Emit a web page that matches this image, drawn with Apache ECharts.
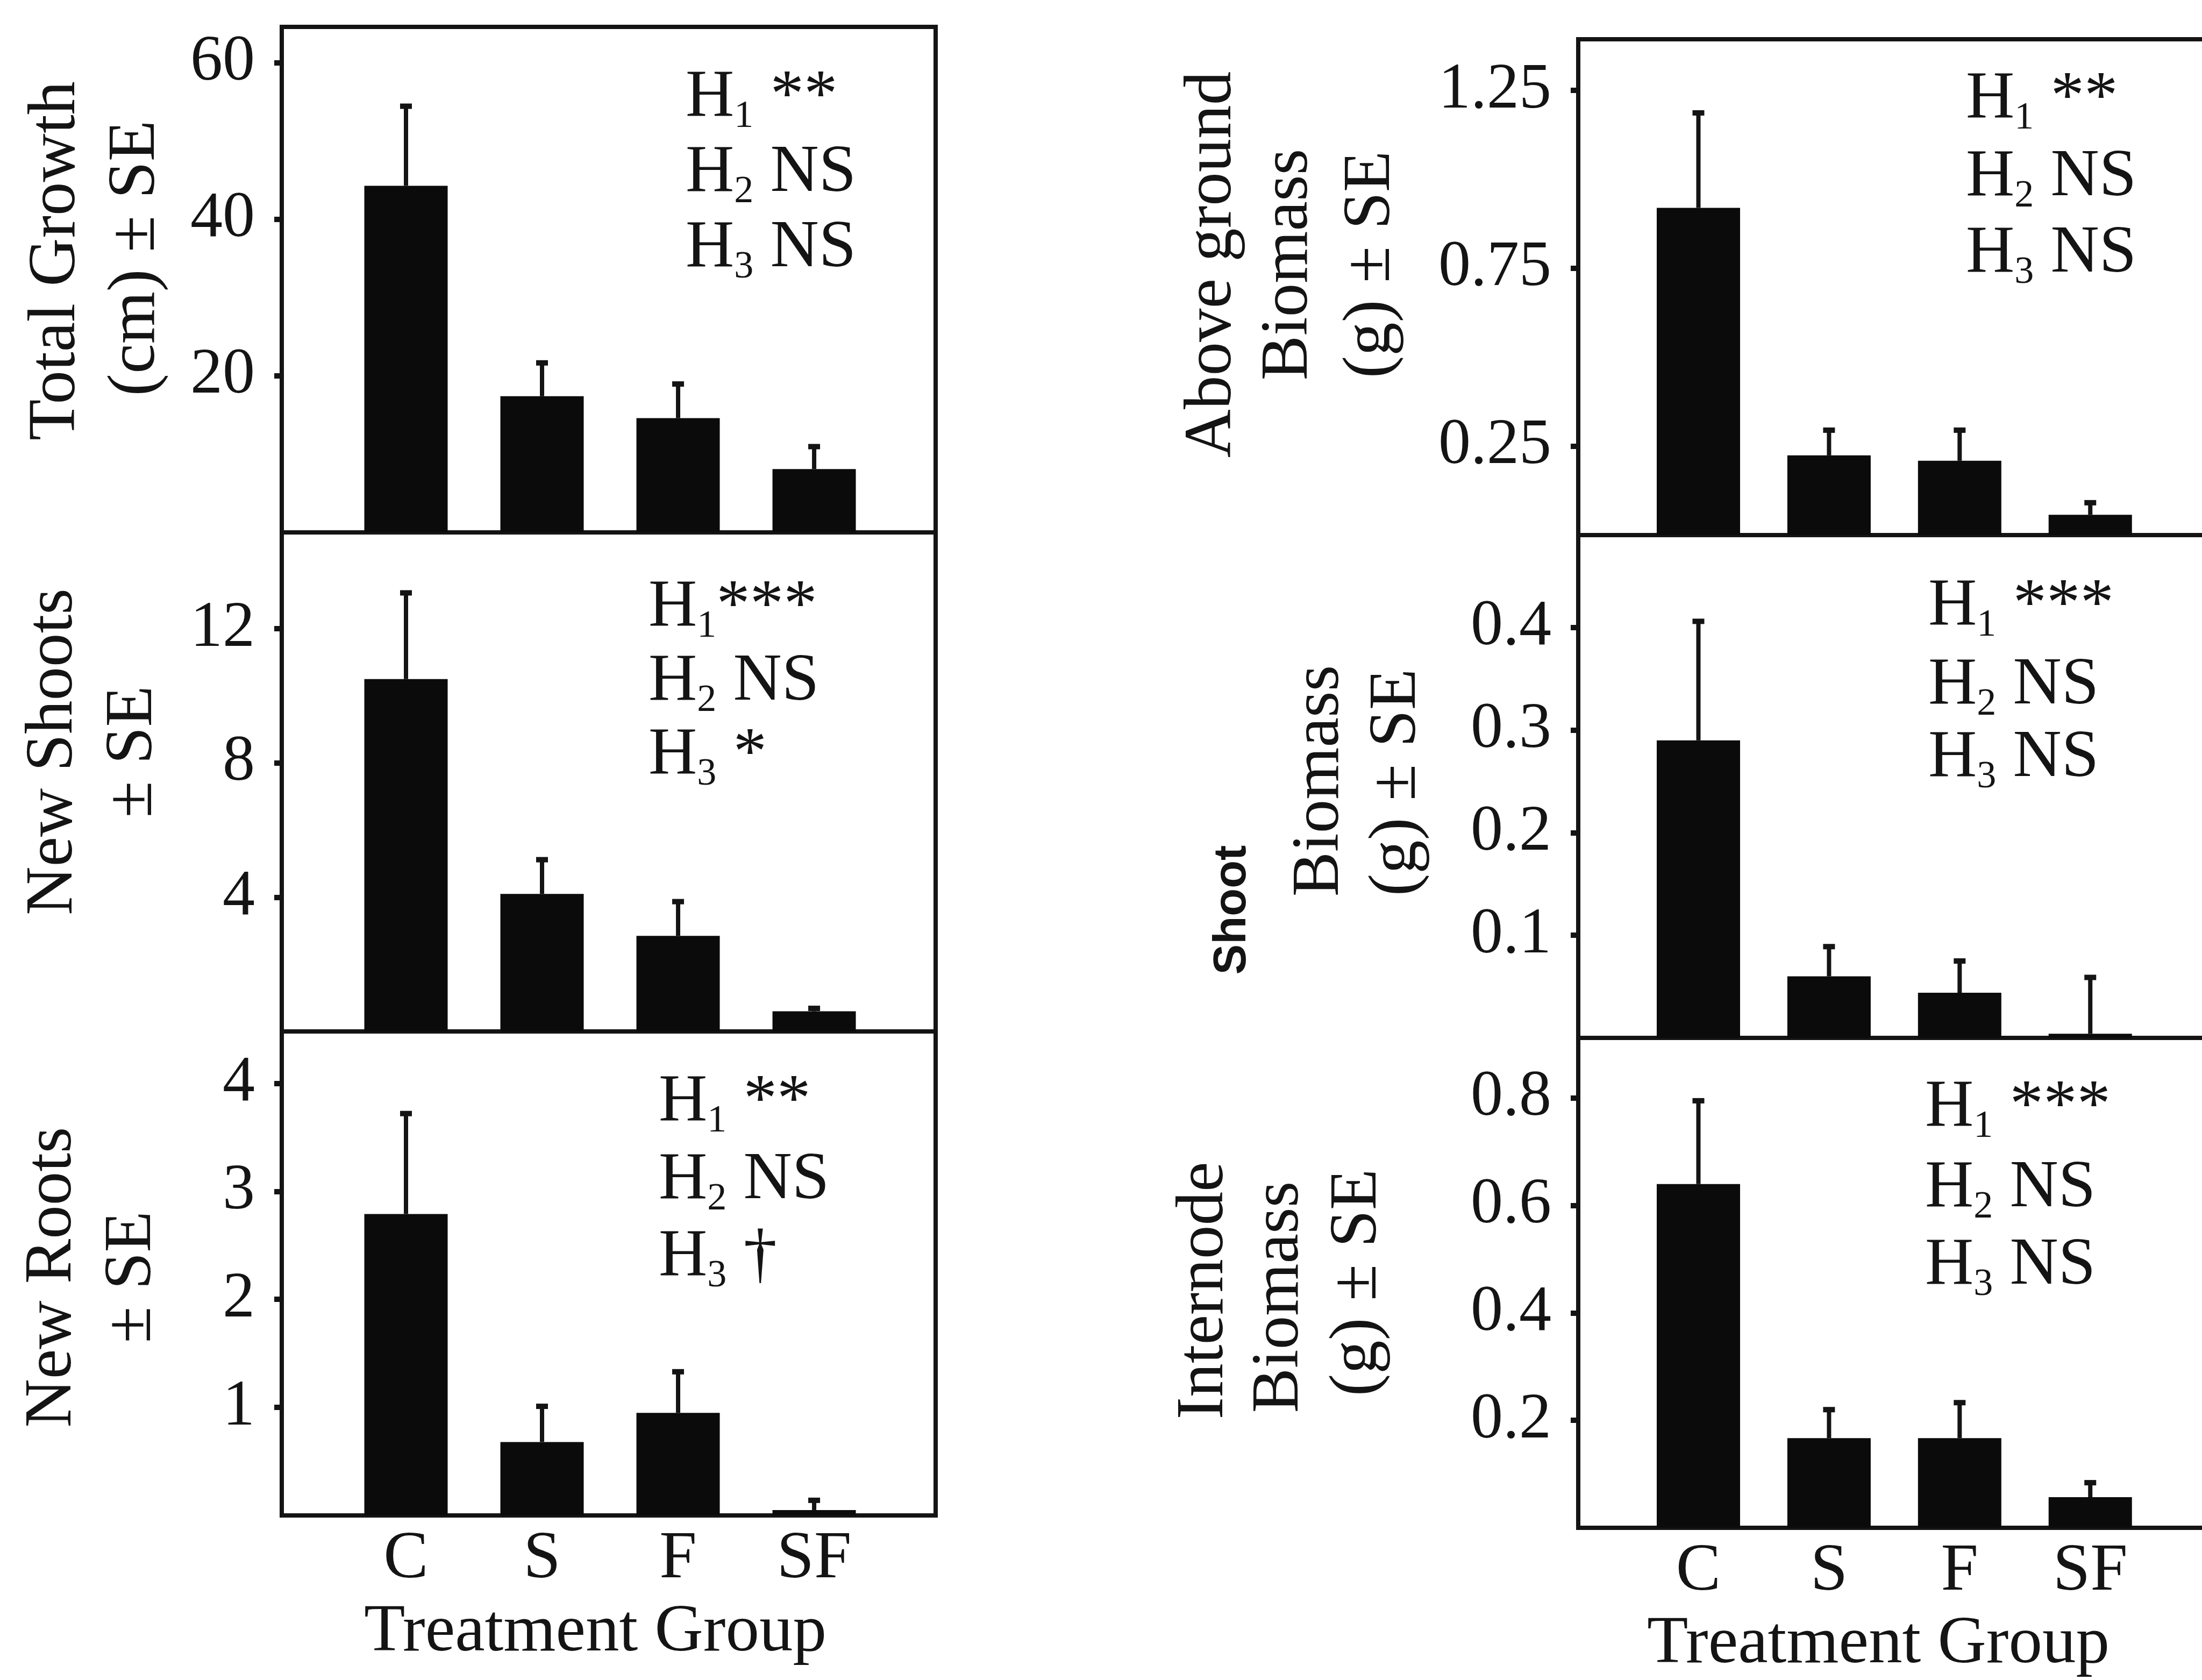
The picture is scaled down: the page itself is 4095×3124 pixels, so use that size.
<!DOCTYPE html>
<html><head><meta charset="utf-8">
<script src="https://cdn.jsdelivr.net/npm/echarts@6/dist/echarts.min.js"></script>
<style>html,body{margin:0;padding:0;background:#fff}#c{width:4095px;height:3124px}</style>
</head><body><div id="c"></div>
<script>
// ---------- data ----------
const categories = ['C', 'S', 'F', 'SF'];

const totalGrowthMean = [44.3, 17.4, 14.6, 8.1];
const totalGrowthSE   = [10.3, 4.4, 4.5, 3.0];
const newShootsMean   = [10.5, 4.1, 2.85, 0.6];
const newShootsSE     = [2.6, 1.05, 1.05, 0.12];
const newRootsMean    = [2.79, 0.68, 0.95, 0.05];
const newRootsSE      = [0.94, 0.34, 0.39, 0.10];
const aboveMean       = [0.92, 0.224, 0.209, 0.057];
const aboveSE         = [0.27, 0.074, 0.089, 0.037];
const shootMean       = [0.29, 0.06, 0.044, 0.004];
const shootSE         = [0.117, 0.03, 0.032, 0.056];
const internodeMean   = [0.64, 0.167, 0.167, 0.057];
const internodeSE     = [0.157, 0.055, 0.068, 0.029];

const ticksTG = [20, 40, 60];
const ticksNS = [4, 8, 12];
const ticksNR = [1, 2, 3, 4];
const ticksAG = [0.25, 0.75, 1.25];
const ticksSB = [0.1, 0.2, 0.3, 0.4];
const ticksIB = [0.2, 0.4, 0.6, 0.8];

// annotation lines: [subscript, rest]
const annTG = [['1', ' **'], ['2', ' NS'], ['3', ' NS']];
const annNS = [['1', '***'], ['2', ' NS'], ['3', ' *']];
const annNR = [['1', ' **'], ['2', ' NS'], ['3', ' \u2020']];
const annAG = [['1', ' **'], ['2', ' NS'], ['3', ' NS']];
const annSB = [['1', ' ***'], ['2', ' NS'], ['3', ' NS']];
const annIB = [['1', ' ***'], ['2', ' NS'], ['3', ' NS']];

// ---------- style / layout ----------
const SERIF = "'Liberation Serif','Times New Roman',serif";
const INK = '#141414';
const FS = 125;

const panels = [
  {mean: totalGrowthMean, se: totalGrowthSE, ticks: ticksTG, max: 64.6, left: 524, top: 50, width: 1216, height: 940, xmin: 0.087, xmax: 4.893, showX: false,
   ann: annTG, annX: 1275, annY: [182, 322, 462],
   titles: [{t: 'Total Growth', x: 105, y: 485}, {t: '(cm) \u00b1 SE', x: 253, y: 480}]},
  {mean: newShootsMean, se: newShootsSE, ticks: ticksNS, max: 14.87, left: 524, top: 990, width: 1216, height: 928, xmin: 0.087, xmax: 4.893, showX: false,
   ann: annNS, annX: 1206, annY: [1130, 1268, 1405],
   titles: [{t: 'New Shoots', x: 100, y: 1398}, {t: '\u00b1 SE', x: 248, y: 1398}]},
  {mean: newRootsMean, se: newRootsSE, ticks: ticksNR, max: 4.48, left: 524, top: 1918, width: 1216, height: 900, xmin: 0.087, xmax: 4.893, showX: true,
   ann: annNR, annX: 1225, annY: [2050, 2195, 2338],
   titles: [{t: 'New Roots', x: 98, y: 2375}, {t: '\u00b1 SE', x: 246, y: 2375}]},
  {mean: aboveMean, se: aboveSE, ticks: ticksAG, max: 1.394, left: 2935, top: 73, width: 1200, height: 922, xmin: 0.08, xmax: 5.02, showX: false,
   ann: annAG, annX: 3656, annY: [185, 330, 472],
   titles: [{t: 'Above ground', x: 2255, y: 492}, {t: 'Biomass', x: 2397, y: 492}, {t: '(g) \u00b1 SE', x: 2550, y: 492}]},
  {mean: shootMean, se: shootSE, ticks: ticksSB, max: 0.490, left: 2935, top: 995, width: 1200, height: 935, xmin: 0.08, xmax: 5.02, showX: false,
   ann: annSB, annX: 3586, annY: [1128, 1275, 1410],
   titles: [{t: 'Shoot', x: 2293, y: 1692, sans: true}, {t: 'Biomass', x: 2455, y: 1452}, {t: '(g) \u00b1 SE', x: 2598, y: 1455}]},
  {mean: internodeMean, se: internodeSE, ticks: ticksIB, max: 0.912, left: 2935, top: 1930, width: 1200, height: 911, xmin: 0.08, xmax: 5.02, showX: true,
   ann: annIB, annX: 3580, annY: [2060, 2210, 2354],
   titles: [{t: 'Internode', x: 2240, y: 2400}, {t: 'Biomass', x: 2380, y: 2412}, {t: '(g) \u00b1 SE', x: 2525, y: 2385}]}
];

const grid = [], xAxis = [], yAxis = [], series = [], graphic = [];

panels.forEach((p, i) => {
  grid.push({left: p.left, top: p.top, width: p.width, height: p.height, show: true,
             borderColor: INK, borderWidth: 8, backgroundColor: 'transparent',
             containLabel: false, outerBoundsMode: 'none'});
  xAxis.push({type: 'value', gridIndex: i, min: p.xmin, max: p.xmax,
    axisLine: {show: false}, axisTick: {show: false}, splitLine: {show: false},
    axisLabel: {show: p.showX, customValues: [1, 2, 3, 4],
      formatter: v => categories[Math.round(v) - 1] || '',
      fontFamily: SERIF, fontSize: FS, color: INK, margin: 20}});
  yAxis.push({type: 'value', gridIndex: i, min: 0, max: p.max,
    axisLine: {show: false}, splitLine: {show: false},
    axisTick: {show: true, customValues: p.ticks, length: 14, lineStyle: {color: INK, width: 10}},
    axisLabel: {customValues: p.ticks, formatter: v => String(v),
      fontFamily: SERIF, fontSize: 120, color: INK, margin: 50}});
  series.push({type: 'bar', xAxisIndex: i, yAxisIndex: i, barWidth: 155, silent: true,
    itemStyle: {color: '#0b0b0b'},
    data: p.mean.map((v, k) => [k + 1, v])});
  series.push({type: 'custom', xAxisIndex: i, yAxisIndex: i, silent: true, z: 5,
    data: p.mean.map((v, k) => [k + 1, v, p.se[k]]),
    renderItem: (params, api) => {
      const x = api.value(0), m = api.value(1), s = api.value(2);
      const a = api.coord([x, m]), b = api.coord([x, m + s]);
      return {type: 'group', children: [
        {type: 'line', shape: {x1: a[0], y1: a[1], x2: b[0], y2: b[1]}, style: {stroke: INK, lineWidth: 8}},
        {type: 'line', shape: {x1: b[0] - 11, y1: b[1] + 2, x2: b[0] + 11, y2: b[1] + 2}, style: {stroke: INK, lineWidth: 10}}
      ]};
    }});
  p.ann.forEach((a, k) => {
    graphic.push({type: 'text', x: p.annX, y: p.annY[k], silent: true,
      style: {text: '{h|H}{s|' + a[0] + '}{h|' + a[1] + '}', align: 'left', verticalAlign: 'middle', fill: INK,
        rich: {h: {fontFamily: SERIF, fontSize: FS, fill: INK},
               s: {fontFamily: SERIF, fontSize: 72, fill: INK, padding: [70, 0, 0, 0]}}}});
  });
  p.titles.forEach(t => {
    graphic.push({type: 'text', x: t.x, y: t.y, rotation: Math.PI / 2, silent: true,
      style: {text: t.t, align: 'center', verticalAlign: 'middle', fill: INK,
        fontFamily: t.sans ? "'Liberation Sans',Arial,sans-serif" : SERIF,
        fontWeight: t.sans ? 'bold' : 'normal', fontSize: t.sans ? 85 : FS}});
  });
});

graphic.push({type: 'text', x: 1107, y: 3036, silent: true,
  style: {text: 'Treatment Group', align: 'center', verticalAlign: 'middle', fill: INK, fontFamily: SERIF, fontSize: FS}});
graphic.push({type: 'text', x: 3493, y: 3058, silent: true,
  style: {text: 'Treatment Group', align: 'center', verticalAlign: 'middle', fill: INK, fontFamily: SERIF, fontSize: FS}});

const chart = echarts.init(document.getElementById('c'), null, {renderer: 'canvas'});
chart.setOption({backgroundColor: '#ffffff', animation: false, grid, xAxis, yAxis, series, graphic});
</script></body></html>
